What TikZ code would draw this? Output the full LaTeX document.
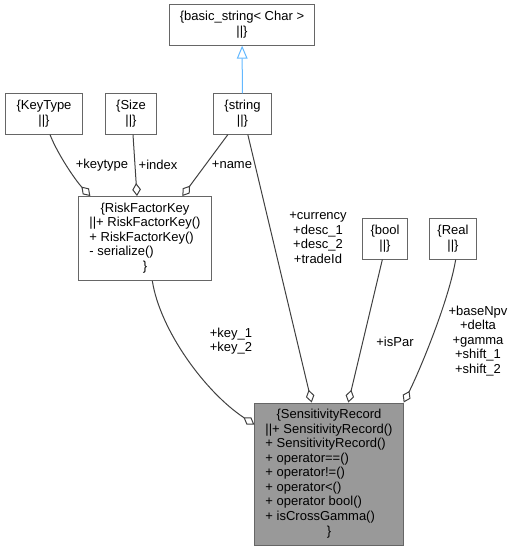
\documentclass[tikz,border=0pt]{standalone}
\usepackage{fontspec}
\setmainfont{Liberation Sans}
\usepackage{array}
\usetikzlibrary{
  arrows.meta,
  positioning
}
\definecolor{dxEdge}{HTML}{404040}
\definecolor{dxBorder}{HTML}{666666}
\definecolor{dxCurrent}{HTML}{999999}
\definecolor{dxInherit}{HTML}{63B8FF}
\newcommand{\dxfont}{\fontsize{9.75}{10.9}\selectfont}
\newcommand{\ctrline}[1]{\multicolumn{1}{@{}c@{}}{#1}}
\tikzset{
  cls/.style={
    draw=dxBorder, fill=white, line width=0.75pt,
    font=\dxfont, inner xsep=8pt, inner ysep=4.2pt
  },
  curcls/.style={cls, fill=dxCurrent},
  member/.style={-{Diamond[open, length=9.75pt, width=6.5pt]}, dxEdge, line width=0.75pt},
  inherit/.style={-{Triangle[open, length=9.75pt, width=8pt]}, dxInherit, line width=0.75pt},
  lbl/.style={font=\dxfont, align=center, inner sep=0pt}
}

\begin{document}
\begin{tikzpicture}[x=0.75pt, y=-0.75pt]
  \useasboundingbox (0,0) rectangle (515,551);
  % classes
  \node[cls] (basicstr) at (242,25) {\begin{tabular}{@{}c@{}}\{basic\_string< Char >\\||\}\end{tabular}};
  \node[cls] (keytype) at (44,114) {\begin{tabular}{@{}c@{}}\{KeyType\\||\}\end{tabular}};
  \node[cls] (size) at (131,114) {\begin{tabular}{@{}c@{}}\{Size\\||\}\end{tabular}};
  \node[cls] (string) at (242.5,114) {\begin{tabular}{@{}c@{}}\{string\\||\}\end{tabular}};
  \node[cls, inner xsep=6pt] (bool) at (385,239) {\begin{tabular}{@{}c@{}}\{bool\\||\}\end{tabular}};
  \node[cls, inner xsep=6pt] (real) at (453,239) {\begin{tabular}{@{}c@{}}\{Real\\||\}\end{tabular}};
  \node[cls] (rfkey) at (145,238.5) {\begin{tabular}{@{}l@{}}
    \ctrline{\{RiskFactorKey}\\
    ||+ RiskFactorKey()\\
    + RiskFactorKey()\\
    - serialize()\\
    \ctrline{\}}
  \end{tabular}};
  \node[curcls] (senrec) at (329,474) {\begin{tabular}{@{}l@{}}
    \ctrline{\{SensitivityRecord}\\
    ||+ SensitivityRecord()\\
    + SensitivityRecord()\\
    + operator==()\\
    + operator!=()\\
    + operator<()\\
    + operator bool()\\
    + isCrossGamma()\\
    \ctrline{\}}
  \end{tabular}};
  % connectors
  \draw[inherit] (string) -- (basicstr);
  \draw[member] ([xshift=4.5pt]keytype.south) .. controls (58,155) and (76,181) .. ([xshift=-41pt]rfkey.north);
  \draw[member] ([xshift=1.5pt]size.south) -- ([xshift=-6pt]rfkey.north);
  \draw[member] ([xshift=-11pt]string.south) -- ([xshift=28pt]rfkey.north);
  \draw[member] ([xshift=4pt]string.south) -- ([xshift=-13pt]senrec.north);
  \draw[member] ([xshift=-2pt]bool.south) -- ([xshift=14.5pt]senrec.north);
  \draw[member] ([xshift=2pt]real.south) .. controls (449,300) and (420,370) .. (senrec.north east);
  \draw[member] ([xshift=5.5pt]rfkey.south) .. controls (160,330) and (205,392) .. ([yshift=-16.5pt]senrec.north west);
  % labels
  \node[lbl] (lkeytype) at (102,165) {+keytype};
  \node[lbl] (lindex) at (158,165) {+index};
  \node[lbl] (lname) at (232,165) {+name};
  \node[lbl] (lstr) at (318,238) {+currency\\+desc\_1\\+desc\_2\\+tradeId};
  \node[lbl] (lkey) at (231,341) {+key\_1\\+key\_2};
  \node[lbl] (lispar) at (395,342) {+isPar};
  \node[lbl] (lreal) at (478,341) {+baseNpv\\+delta\\+gamma\\+shift\_1\\+shift\_2};
\end{tikzpicture}
\end{document}
